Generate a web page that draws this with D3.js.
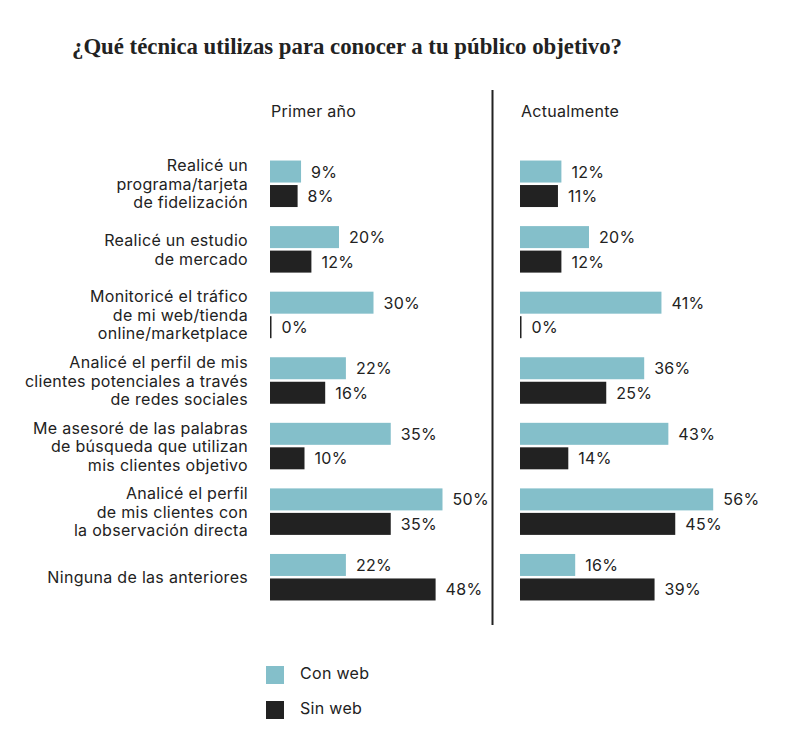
<!DOCTYPE html>
<html><head><meta charset="utf-8">
<script src="https://cdn.jsdelivr.net/npm/d3@7/dist/d3.min.js"></script>
<style>
body{margin:0;background:#fff;}
text{font-family:"Inter","Lato",sans-serif;fill:#222;letter-spacing:0.3px;}
</style></head>
<body>
<svg id="c" width="800" height="756"></svg>
<script>
const title = "¿Qué técnica utilizas para conocer a tu público objetivo?";
const categories = [
  ["Realicé un","programa/tarjeta","de fidelización"],
  ["Realicé un estudio","de mercado"],
  ["Monitoricé el tráfico","de mi web/tienda","online/marketplace"],
  ["Analicé el perfil de mis","clientes potenciales a través","de redes sociales"],
  ["Me asesoré de las palabras","de búsqueda que utilizan","mis clientes objetivo"],
  ["Analicé el perfil","de mis clientes con","la observación directa"],
  ["Ninguna de las anteriores"]
];
const panels = ["Primer año","Actualmente"];
const seriesNames = ["Con web","Sin web"];
const primerConWeb = [9,20,30,22,35,50,22];
const primerSinWeb = [8,12,0,16,10,35,48];
const actualConWeb = [12,20,41,36,43,56,16];
const actualSinWeb = [11,12,0,25,14,45,39];

const colors = ["#84bfca","#222222"];
const svg = d3.select("#c");
const fs = "16px";

// title
svg.append("text").attr("x",72).attr("y",54)
  .style("font-family","'Liberation Serif','DejaVu Serif',serif")
  .style("font-weight","bold").style("font-size","24px").style("letter-spacing","0px")
  .attr("textLength",550).attr("lengthAdjust","spacingAndGlyphs")
  .text(title);

const y = d3.scaleBand().domain(d3.range(categories.length)).range([151,610]);
const barH = 22, gap = 2.5;
const groupTop = i => y(i) + (y.bandwidth() - (2*barH+gap))/2;

const panelX = [270,520];
const panelData = [[primerConWeb,primerSinWeb],[actualConWeb,actualSinWeb]];
const xScale = d3.scaleLinear().domain([0,50]).range([0,172.5]);

panels.forEach((p,pi)=>{
  const g = svg.append("g").attr("transform",`translate(${panelX[pi]},0)`);
  g.append("text").attr("x",1).attr("y",117).style("font-size",fs).text(p);
  panelData[pi].forEach((vals,si)=>{
    const yy = i => groupTop(i) + si*(barH+gap);
    g.selectAll(null).data(vals).enter().append("rect")
      .attr("x",0).attr("y",(d,i)=>yy(i))
      .attr("width",d=> d===0 ? 1.5 : xScale(d)).attr("height",barH)
      .attr("fill",colors[si]);
    g.selectAll(null).data(vals).enter().append("text")
      .attr("x",d=> (d===0?1.5:xScale(d)) + 10)
      .attr("y",(d,i)=>yy(i)+barH/2+6)
      .style("font-size",fs).text(d=>d+"%");
  });
});

// category labels
categories.forEach((lines,i)=>{
  const c = y(i)+y.bandwidth()/2;
  const n = lines.length;
  lines.forEach((l,k)=>{
    svg.append("text").attr("x",248).attr("text-anchor","end")
      .attr("y", c + 6 + (k-(n-1)/2)*18.5)
      .style("font-size",fs).text(l);
  });
});

// divider
svg.append("line").attr("x1",492.5).attr("x2",492.5).attr("y1",90).attr("y2",625)
  .attr("stroke","#222").attr("stroke-width",2);

// legend
const leg = svg.append("g");
seriesNames.forEach((s,i)=>{
  leg.append("rect").attr("x",266).attr("y",666+i*35).attr("width",18).attr("height",18).attr("fill",colors[i]);
  leg.append("text").attr("x",300).attr("y",679+i*35).style("font-size",fs).text(s);
});
</script>
</body></html>
